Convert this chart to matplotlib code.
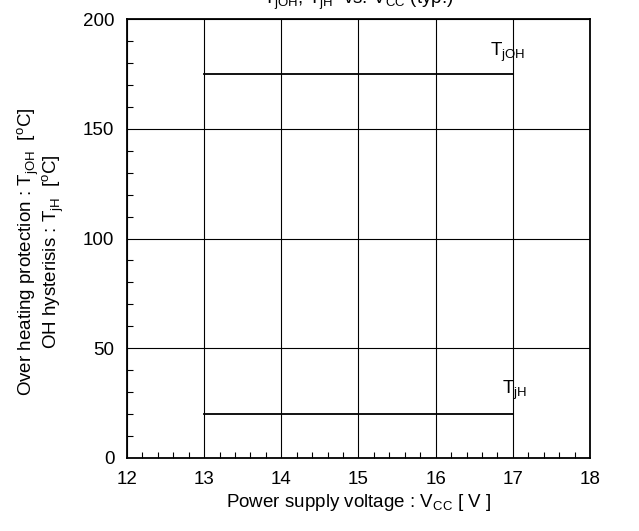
import numpy as np
import matplotlib
matplotlib.use("Agg")
import matplotlib.pyplot as plt
from matplotlib.ticker import MultipleLocator

plt.rcParams['font.family'] = ['Liberation Sans', 'DejaVu Sans']
plt.rcParams['mathtext.fontset'] = 'custom'
plt.rcParams['mathtext.rm'] = 'Liberation Sans'

# data
vcc = [13, 14, 15, 16, 17]
tjoh = [175, 175, 175, 175, 175]
tjh = [20, 20, 20, 20, 20]

fs = 13.5

fig = plt.figure(figsize=(6.39, 5.31), dpi=100)
ax = fig.add_axes([127/639, 1-458/531, (590-127)/639, (458-19)/531])

ax.plot(vcc, tjoh, color='black', lw=1.3)
ax.plot(vcc, tjh, color='black', lw=1.3)

ax.set_xlim(12, 18)
ax.set_ylim(0, 200)
ax.xaxis.set_major_locator(MultipleLocator(1))
ax.xaxis.set_minor_locator(MultipleLocator(0.2))
ax.yaxis.set_major_locator(MultipleLocator(50))
ax.yaxis.set_minor_locator(MultipleLocator(10))
ax.tick_params(which='both', direction='in', top=False, right=False, labelsize=fs)
ax.tick_params(which='major', length=0, pad=9)
ax.tick_params(which='minor', length=4, width=0.8)
ax.grid(True, which='major', color='black', lw=0.8)
for s in ax.spines.values():
    s.set_linewidth(1.3)

# curve labels
ax.text(16.70, 185, r'T$_{\mathrm{jOH}}$', fontsize=fs, ha='left', va='center')
ax.text(16.86, 31, r'T$_{\mathrm{jH}}$', fontsize=fs, ha='left', va='center')

ax.set_xlabel(r'Power supply voltage : V$_{\mathrm{CC}}$ [ V ]', fontsize=fs, labelpad=3)
ax.set_ylabel('Over heating protection : T$_{\\mathrm{jOH}}$  [$^{\\mathrm{o}}$C]\n'
              'OH hysterisis : T$_{\\mathrm{jH}}$  [$^{\\mathrm{o}}$C]',
              fontsize=fs, linespacing=1.0)
ax.yaxis.set_label_coords(-0.132, 0.47)

fig.text(358/639, 0.999, r'T$_{\mathrm{jOH}}$, T$_{\mathrm{jH}}$  vs. V$_{\mathrm{CC}}$ (typ.)',
         fontsize=fs, ha='center', va='center')

fig.savefig('out.png', dpi=100)
